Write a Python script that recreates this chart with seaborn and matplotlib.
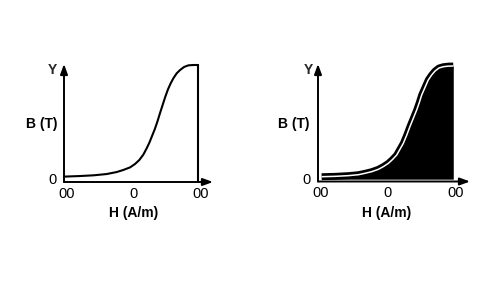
import matplotlib
matplotlib.use("Agg")
import matplotlib.pyplot as plt
import seaborn as sns
from matplotlib.transforms import ScaledTranslation

sns.set_theme(style="white")
plt.rcParams["font.family"] = ["Liberation Sans", "DejaVu Sans"]

# ---- data ----
H_left = [0.0, 1.19, 2.19, 3.18, 3.93, 4.43, 4.93, 5.30, 5.62, 5.92, 6.17,
          6.37, 6.57, 6.77, 6.97, 7.16, 7.36, 7.56, 7.76, 7.96, 8.16, 8.41,
          8.66, 8.96, 9.28, 9.65, 10.0]
B_left = [0.046, 0.051, 0.057, 0.068, 0.085, 0.103, 0.125, 0.154, 0.188,
          0.234, 0.288, 0.336, 0.393, 0.450, 0.516, 0.587, 0.658, 0.729,
          0.792, 0.843, 0.886, 0.929, 0.957, 0.983, 0.997, 1.0, 1.0]

H_right = [0.27, 1.26, 2.25, 2.99, 3.48, 3.98, 4.47, 4.84, 5.21, 5.53, 5.83,
           6.07, 6.32, 6.57, 6.81, 7.06, 7.31, 7.51, 7.68, 7.93, 8.17, 8.42,
           8.67, 8.96, 9.28, 9.65, 10.02]
B_right = [0.041, 0.044, 0.050, 0.058, 0.070, 0.084, 0.104, 0.127, 0.155,
           0.189, 0.226, 0.275, 0.326, 0.395, 0.469, 0.540, 0.611, 0.677,
           0.739, 0.805, 0.868, 0.910, 0.944, 0.970, 0.981, 0.986, 0.987]

x_ticks = [0, 5, 10]
x_tick_labels = ["00", "0", "00"]
y_ticks = [0]
y_tick_labels = ["0"]
x_label = "H (A/m)"
y_label = "B (T)"
y_name = "Y"

W, HH = 500, 282
fig = plt.figure(figsize=(5, 2.82), dpi=100)


def px_axes(l, r, t, b):
    ax = fig.add_axes([l / W, 1 - b / HH, (r - l) / W, (b - t) / HH])
    ax._box = (l, r, t, b)
    return ax


def to_axes(ax, px, py):
    l, r, t, b = ax._box
    return (px - l) / (r - l), (b - py) / (b - t)


def style(ax, ylab_px, xlab_px, yname_px):
    for s in ax.spines.values():
        s.set_visible(False)
    ax.set_facecolor("white")
    arrow = dict(arrowstyle="-|>,head_length=0.6,head_width=0.22", lw=1.4,
                 color="black", shrinkA=0, shrinkB=0, mutation_scale=10)
    ax.annotate("", xy=(1, 0), xytext=(0, 0), xycoords="axes fraction",
                arrowprops=arrow, annotation_clip=False)
    ax.annotate("", xy=(0, 1), xytext=(0, 0), xycoords="axes fraction",
                arrowprops=arrow, annotation_clip=False)
    ax.set_xticks(x_ticks, x_tick_labels)
    ax.set_yticks(y_ticks, y_tick_labels)
    ax.tick_params(axis="both", length=0, labelsize=10.5, colors="black")
    ax.tick_params(axis="x", pad=3.5)
    ax.tick_params(axis="y", pad=5.5)
    for lab in ax.get_xticklabels():
        lab.set_transform(lab.get_transform() +
                          ScaledTranslation(2.5 / 100, 0, fig.dpi_scale_trans))
    for lab in ax.get_yticklabels():
        lab.set_transform(lab.get_transform() +
                          ScaledTranslation(0, 3 / 100, fig.dpi_scale_trans))
    ax.set_xlabel(x_label, fontsize=10, fontweight="bold", color="black")
    ax.xaxis.set_label_coords(*to_axes(ax, *xlab_px))
    ax.xaxis.label.set_va("center")
    ax.set_ylabel(y_label, fontsize=10, fontweight="bold", rotation=0,
                  color="black")
    ax.yaxis.set_label_coords(*to_axes(ax, *ylab_px))
    ax.yaxis.label.set_ha("center")
    ax.yaxis.label.set_va("center")
    ax.text(*to_axes(ax, *yname_px), y_name, transform=ax.transAxes,
            fontsize=10, fontweight="bold", ha="center", va="center")


# ---- left panel ----
ax1 = px_axes(64, 213, 64, 182)
ax1.set_xlim(0, (213 - 64) / 13.4)
ax1.set_ylim(0, (182 - 64) / 117)
sns.lineplot(x=H_left, y=B_left, ax=ax1, color="black", lw=1.5, sort=False,
             estimator=None, clip_on=False, solid_joinstyle="round")
ax1.plot([H_left[-1], H_left[-1]], [B_left[-1], 0], color="black", lw=1.5,
         clip_on=False)
style(ax1, ylab_px=(42, 124), xlab_px=(133.3, 212.7), yname_px=(52.7, 69.5))

# ---- right panel ----
ax2 = px_axes(318, 470, 64, 181.5)
ax2.set_xlim(0, (470 - 318) / 13.5)
ax2.set_ylim(0, (181.5 - 64) / 117)
ax2.fill_between(H_right, B_right, 0.02, color="black", lw=0)
sns.lineplot(x=H_right, y=B_right, ax=ax2, color="black", lw=5, sort=False,
             estimator=None, clip_on=False, solid_capstyle="butt",
             solid_joinstyle="round")
sns.lineplot(x=H_right, y=B_right, ax=ax2, color="white", lw=1.1, sort=False,
             estimator=None, clip_on=False, solid_capstyle="butt",
             solid_joinstyle="round")
style(ax2, ylab_px=(293.5, 124), xlab_px=(386.7, 213.3), yname_px=(308.5, 70))

fig.savefig("out.png", dpi=100, facecolor="white")
